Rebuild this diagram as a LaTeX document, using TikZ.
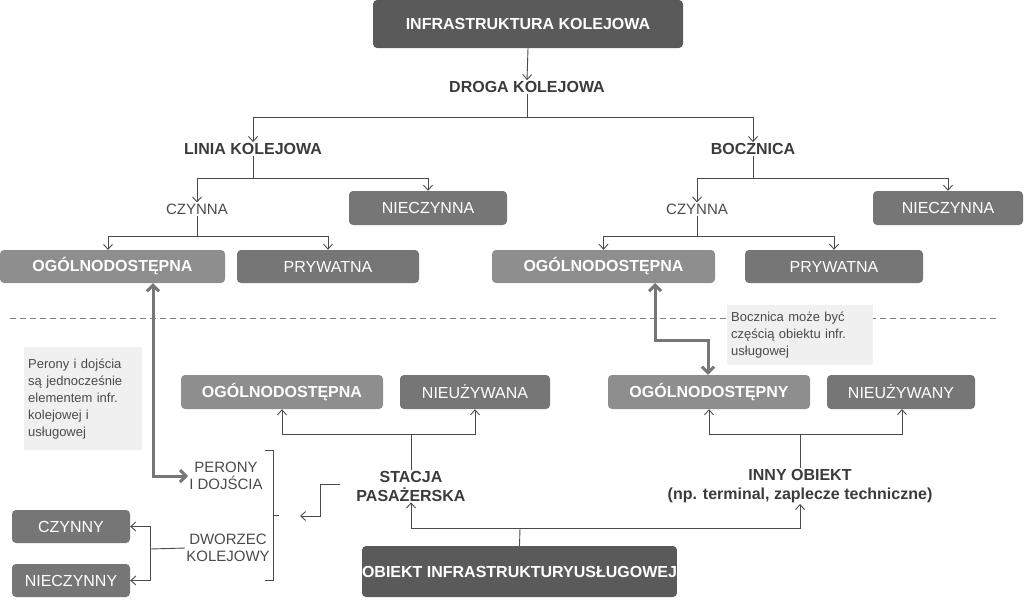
\documentclass[tikz,border=0pt]{standalone}
\usepackage{fontspec}
\setmainfont{Liberation Sans}
\usetikzlibrary{arrows.meta}
\definecolor{cdark}{HTML}{5A5A5A}
\definecolor{cmid}{HTML}{767676}
\definecolor{clight}{HTML}{8E8E8E}
\definecolor{cline}{HTML}{4A4A4A}
\definecolor{cnote}{HTML}{F0F0F0}
\begin{document}
\begin{tikzpicture}[x=1pt,y=-1pt,
  box/.style={rounded corners=4pt,text=white,inner sep=0pt,font=\fontsize{16}{19}\selectfont},
  dbox/.style={box,fill=cdark,font=\fontsize{16}{19}\selectfont\bfseries},
  mbox/.style={box,fill=cmid},
  lbox/.style={box,fill=clight,font=\fontsize{16}{19}\selectfont\bfseries},
  lab/.style={text=cline!80!black,align=center,font=\fontsize{16}{19}\selectfont\bfseries,inner sep=1pt},
  labn/.style={text=cline,align=center,font=\fontsize{15}{17}\selectfont,inner sep=1pt},
  note/.style={fill=cnote,text=cline,align=left,font=\fontsize{13}{17}\selectfont,inner sep=4pt},
  con/.style={draw=cline,line width=0.9pt},
  arr/.style={con,-{Straight Barb[length=5pt,width=9pt]}},
  thick2/.style={draw=cmid,line width=3pt,{Straight Barb[length=6pt,width=12pt]}-{Straight Barb[length=6pt,width=12pt]}},
  thick1/.style={draw=cmid,line width=3pt,-{Straight Barb[length=6pt,width=12pt]}}]
\useasboundingbox (0,0) rectangle (1024,603);
% top
\node[dbox,minimum width=310,minimum height=48] (infra) at (528,24) {INFRASTRUKTURA KOLEJOWA};
\node[lab] (droga) at (527,87) {DROGA KOLEJOWA};
\node[lab] (linia) at (253,149) {LINIA KOLEJOWA};
\node[lab] (bocz) at (753,149) {BOCZNICA};
\draw[arr] (infra.south) -- (droga.north);
\draw[con] (droga.south) -- (527,117) coordinate (j1);
\draw[arr] (j1) -| (linia.north);
\draw[arr] (j1) -| (bocz.north);
% left branch
\node[labn] (czl) at (197,209) {CZYNNA};
\node[mbox,minimum width=158,minimum height=34] (niecl) at (428,208) {NIECZYNNA};
\draw[con] (linia.south) -- (253,178) coordinate (j2);
\draw[arr] (j2) -| (czl.north);
\draw[arr] (j2) -| (niecl.north);
\node[lbox,minimum width=225,minimum height=33] (ogl) at (112.5,266.5) {OGÓLNODOSTĘPNA};
\node[mbox,minimum width=182,minimum height=33] (prl) at (328,266.5) {PRYWATNA};
\draw[con] (czl.south) -- (197,236) coordinate (j3);
\draw[arr] (j3) -| (108,250);
\draw[arr] (j3) -| (prl.north);
% right branch
\node[labn] (czr) at (697,209) {CZYNNA};
\node[mbox,minimum width=150,minimum height=34] (niecr) at (948,208) {NIECZYNNA};
\draw[con] (bocz.south) -- (753,178) coordinate (j4);
\draw[arr] (j4) -| (czr.north);
\draw[arr] (j4) -| (niecr.north);
\node[lbox,minimum width=223,minimum height=33] (ogr) at (603.5,266.5) {OGÓLNODOSTĘPNA};
\node[mbox,minimum width=178,minimum height=33] (prr) at (834,266.5) {PRYWATNA};
\draw[con] (czr.south) -- (697,236) coordinate (j5);
\draw[arr] (j5) -| (ogr.north);
\draw[arr] (j5) -| (prr.north);
% dashed
\draw[draw=gray,dashed,dash pattern=on 6pt off 4pt,line width=0.8pt] (10,318) -- (1000,318);
% notes
\node[note,minimum width=118,minimum height=103,anchor=north west,text width=110] (n1) at (24,347) {Perony i dojścia\\są jednocześnie\\elementem infr.\\kolejowej i\\usługowej};
\node[note,minimum width=146,minimum height=60,anchor=north west,text width=138] (n2) at (727,305) {Bocznica może być\\częścią obiektu infr.\\usługowej};
% lower left
\node[lbox,minimum width=202,minimum height=34] (ogs) at (282,392) {OGÓLNODOSTĘPNA};
\node[mbox,minimum width=150,minimum height=34] (nus) at (475,392) {NIEUŻYWANA};
\node[lab] (stacja) at (411,486) {STACJA\\PASAŻERSKA};
\draw[con] (stacja.north) -- (411,434) coordinate (j6);
\draw[arr] (j6) -| (ogs.south);
\draw[arr] (j6) -| (nus.south);
\node[labn] (per) at (226,476) {PERONY\\I DOJŚCIA};
\node[labn] (dwo) at (228,548) {DWORZEC\\KOLEJOWY};
\draw[con] (265,450) -- (273,450) -- (273,580) -- (265,580);
\draw[con] (273,515) coordinate (br) -- (279,515);
\coordinate (s1) at (340,484);
\draw[arr] (s1) -- (320,484) -- (320,516) -- (300,516);
\node[mbox,minimum width=118,minimum height=33] (czy) at (71,526.5) {CZYNNY};
\node[mbox,minimum width=118,minimum height=33] (nczy) at (71,580.5) {NIECZYNNY};
\draw[con] (dwo.west) -- (150,549) coordinate (j7);
\draw[arr] (150,549) |- (czy.east);
\draw[arr] (150,549) |- (nczy.east);
\draw[thick2] (ogl.south -| 153,0) -- (153,476) -- (per.west);
% bottom
\node[dbox,minimum width=307,minimum height=51] (obiekt) at (519.5,571.5) {OBIEKT INFRASTRUKTURY\\USŁUGOWEJ};
\node[lab] (inny) at (800,486) {INNY OBIEKT\\(np. terminal, zaplecze techniczne)};
\draw[con] (obiekt.north) -- (520,528) coordinate (j8);
\draw[arr] (j8) -| (stacja.south);
\draw[arr] (j8) -| (inny.south);
% lower right
\node[lbox,minimum width=202,minimum height=34] (ogo) at (709,392) {OGÓLNODOSTĘPNY};
\node[mbox,minimum width=148,minimum height=34] (nuo) at (901,392) {NIEUŻYWANY};
\draw[con] (inny.north) -- (800,434) coordinate (j9);
\draw[arr] (j9) -| (ogo.south);
\draw[arr] (j9) -| (902,409);
\draw[thick2] (655,283) -- (655,340) -- (708,340) -- (ogo.north -| 708,0);
\end{tikzpicture}
\end{document}
